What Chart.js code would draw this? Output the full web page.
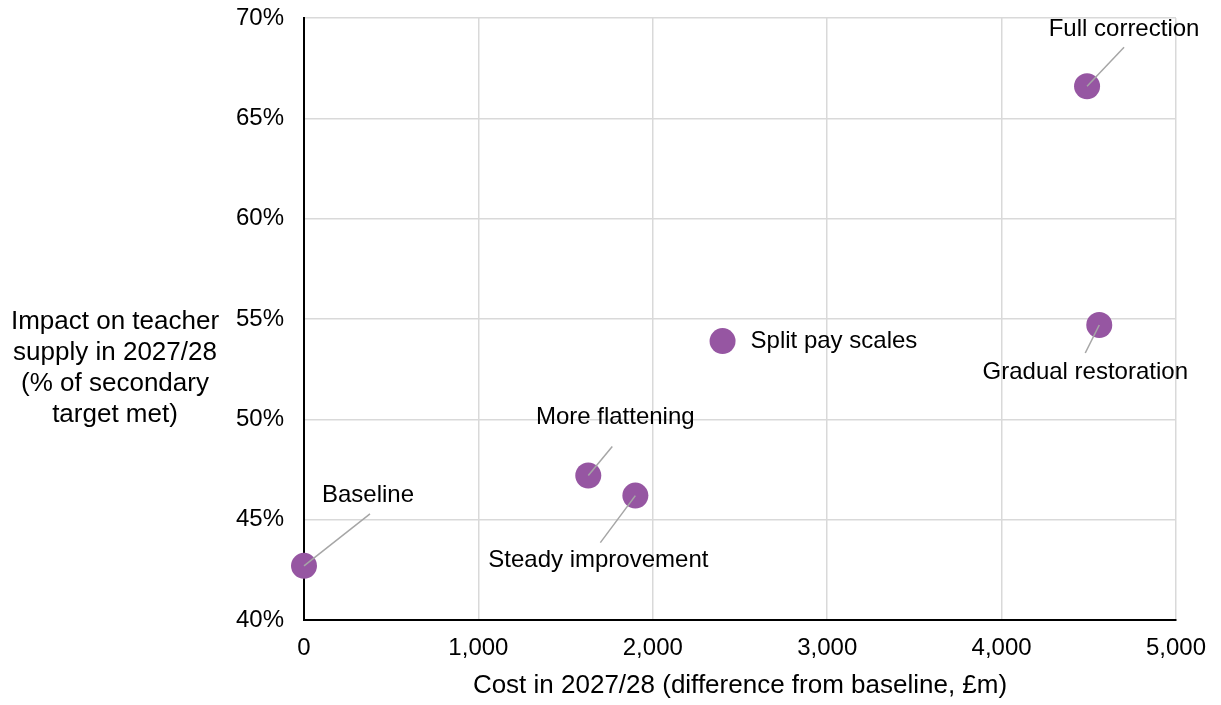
<!DOCTYPE html>
<html>
<head>
<meta charset="utf-8">
<script src="https://cdn.jsdelivr.net/npm/chart.js@4.4.1/dist/chart.umd.min.js"></script>
<style>
  html, body { margin: 0; padding: 0; background: #fff; }
  #wrap { width: 1221px; height: 705px; }
</style>
</head>
<body>
<div id="wrap"><canvas id="chart"></canvas></div>
<script>
// scenario data
var scenarioNames = ['Baseline', 'More flattening', 'Steady improvement', 'Split pay scales', 'Full correction', 'Gradual restoration'];
var costValues = [0, 1630, 1900, 2400, 4490, 4560];           // £m, difference from baseline
var supplyValues = [42.7, 47.2, 46.2, 53.9, 66.6, 54.7];       // % of secondary target met
var xTicks = [0, 1000, 2000, 3000, 4000, 5000];
var yTicks = [40, 45, 50, 55, 60, 65, 70];

// label placement (pixel offsets from the point): leader end, text anchor
var labelPlacement = [
    { lx: 66, ly: -52, tx: 64, ty: -70, align: 'center' },
    { lx: 24, ly: -29, tx: 27, ty: -58, align: 'center' },
    { lx: -35, ly: 47, tx: -37, ty: 65, align: 'center' },
    { lx: 0, ly: 0, tx: 28, ty: 0, align: 'left', noLine: true },
    { lx: 37, ly: -39, tx: 37, ty: -57, align: 'center' },
    { lx: -14, ly: 28, tx: -14, ty: 47, align: 'center' }
];

var fontFamily = 'Arial, "Liberation Sans", sans-serif';
var textSize = 24;
var titleSize = 26;

var points = costValues.map(function (c, i) { return { x: c, y: supplyValues[i] }; });

// draws labels with grey leader lines, and the horizontal y-axis title
var labelPlugin = {
    id: 'pointLabels',
    afterDatasetsDraw: function (chart) {
        var ctx = chart.ctx;
        var meta = chart.getDatasetMeta(0);
        ctx.save();
        ctx.font = textSize + 'px ' + fontFamily;
        ctx.textBaseline = 'middle';
        meta.data.forEach(function (el, i) {
            var p = labelPlacement[i];
            if (!p.noLine) {
                ctx.strokeStyle = '#a6a6a6';
                ctx.lineWidth = 1.5;
                ctx.beginPath();
                ctx.moveTo(el.x, el.y);
                ctx.lineTo(el.x + p.lx, el.y + p.ly);
                ctx.stroke();
            }
            ctx.fillStyle = '#000';
            ctx.textAlign = p.align;
            ctx.fillText(scenarioNames[i], el.x + p.tx, el.y + p.ty);
        });

        // y axis title, horizontal and centred
        var lines = ['Impact on teacher', 'supply in 2027/28', '(% of secondary', 'target met)'];
        ctx.font = titleSize + 'px ' + fontFamily;
        ctx.textAlign = 'center';
        lines.forEach(function (t, k) {
            ctx.fillText(t, 115, 322 + k * 31);
        });
        ctx.restore();
    }
};

new Chart(document.getElementById('chart'), {
    type: 'scatter',
    data: {
        datasets: [{
            data: points,
            backgroundColor: '#9656a2',
            borderWidth: 0,
            pointRadius: 13,
            pointHoverRadius: 13,
            clip: false
        }]
    },
    options: {
        responsive: true,
        maintainAspectRatio: false,
        animation: false,
        events: [],
        layout: { padding: { top: 18, right: 45, left: 0, bottom: 0 } },
        plugins: {
            legend: { display: false },
            tooltip: { enabled: false }
        },
        scales: {
            x: {
                type: 'linear',
                min: 0,
                max: 5000,
                afterBuildTicks: function (axis) {
                    axis.ticks = xTicks.map(function (v) { return { value: v }; });
                },
                afterFit: function (axis) {
                    axis.height = 85;
                    axis.paddingLeft = 0;
                    axis.paddingRight = 0;
                },
                ticks: {
                    color: '#000',
                    padding: 14,
                    font: { family: fontFamily, size: textSize },
                    callback: function (v) { return v.toLocaleString('en-GB'); }
                },
                grid: { color: '#d9d9d9', lineWidth: 1.5, drawTicks: false },
                border: { color: '#000', width: 2 },
                title: {
                    display: true,
                    text: 'Cost in 2027/28 (difference from baseline, £m)',
                    color: '#000',
                    font: { family: fontFamily, size: titleSize },
                    padding: { top: 2 }
                }
            },
            y: {
                type: 'linear',
                min: 40,
                max: 70,
                afterBuildTicks: function (axis) {
                    axis.ticks = yTicks.map(function (v) { return { value: v }; });
                },
                afterFit: function (axis) {
                    axis.width = 304;
                    axis.paddingTop = 0;
                    axis.paddingBottom = 0;
                },
                ticks: {
                    color: '#000',
                    padding: 20,
                    font: { family: fontFamily, size: textSize },
                    callback: function (v) { return v + '%'; }
                },
                grid: { color: '#d9d9d9', lineWidth: 1.5, drawTicks: false },
                border: { color: '#000', width: 2 }
            }
        }
    },
    plugins: [labelPlugin]
});
</script>
</body>
</html>
